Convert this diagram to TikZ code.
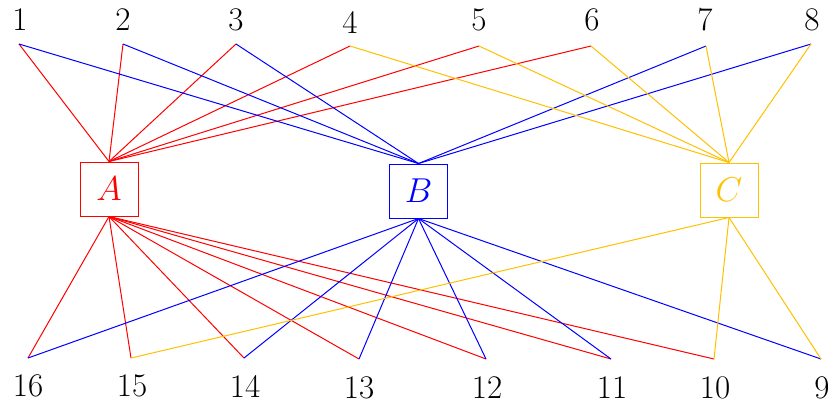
\documentclass[tikz,border=0pt]{standalone}
\definecolor{cyel}{RGB}{255,192,0}
\tikzset{
  hub/.style={draw, line width=0.5pt, minimum width=29pt, minimum height=27pt, inner sep=0pt, font=\fontsize{16.5}{19}\selectfont},
  lbl/.style={inner sep=0pt, font=\fontsize{16.5}{19}\selectfont},
  edge/.style={line width=0.5pt}
}
\begin{document}
\begin{tikzpicture}[x=0.5pt,y=-0.5pt]
\useasboundingbox (0,0) rectangle (828,409);
% top points
\coordinate (p1) at (19,44);
\coordinate (p2) at (123,44);
\coordinate (p3) at (236,44);
\coordinate (p4) at (350,46);
\coordinate (p5) at (479,46);
\coordinate (p6) at (591,46);
\coordinate (p7) at (706,46);
\coordinate (p8) at (811,44);
% bottom points
\coordinate (p16) at (28,358);
\coordinate (p15) at (131,358);
\coordinate (p14) at (244,358);
\coordinate (p13) at (359,359);
\coordinate (p12) at (486,359);
\coordinate (p11) at (611,359);
\coordinate (p10) at (714,359);
\coordinate (p9) at (821,359);
% labels
\node[lbl] (l1) at (20,20) {1};
\node[lbl] (l2) at (123,20) {2};
\node[lbl] (l3) at (236,20) {3};
\node[lbl] (l4) at (350,22) {4};
\node[lbl] (l5) at (479,20) {5};
\node[lbl] (l6) at (592,20) {6};
\node[lbl] (l7) at (705,20) {7};
\node[lbl] (l8) at (812,20) {8};
\node[lbl] (l16) at (28,386) {16};
\node[lbl] (l15) at (132,386) {15};
\node[lbl] (l14) at (245,386) {14};
\node[lbl] (l13) at (359,388) {13};
\node[lbl] (l12) at (487,388) {12};
\node[lbl] (l11) at (612,388) {11};
\node[lbl] (l10) at (715,388) {10};
\node[lbl] (l9) at (822,388) {9};
% hubs
\node[hub, red] (A) at (109,189) {$A$};
\node[hub, blue] (B) at (418.5,191) {$B$};
\node[hub, cyel] (C) at (729,190) {$C$};
% edges A
\foreach \p in {1,2,3,4,5,6} \draw[edge, red] (A.north) -- (p\p);
\foreach \p in {16,15,14,13,12,11,10} \draw[edge, red] (A.south) -- (p\p);
% edges B
\foreach \p in {1,2,3,7,8} \draw[edge, blue] (B.north) -- (p\p);
\foreach \p in {16,14,13,12,11,9} \draw[edge, blue] (B.south) -- (p\p);
% edges C
\foreach \p in {4,5,6,7,8} \draw[edge, cyel] (C.north) -- (p\p);
\foreach \p in {15,10,9} \draw[edge, cyel] (C.south) -- (p\p);
\end{tikzpicture}
\end{document}
